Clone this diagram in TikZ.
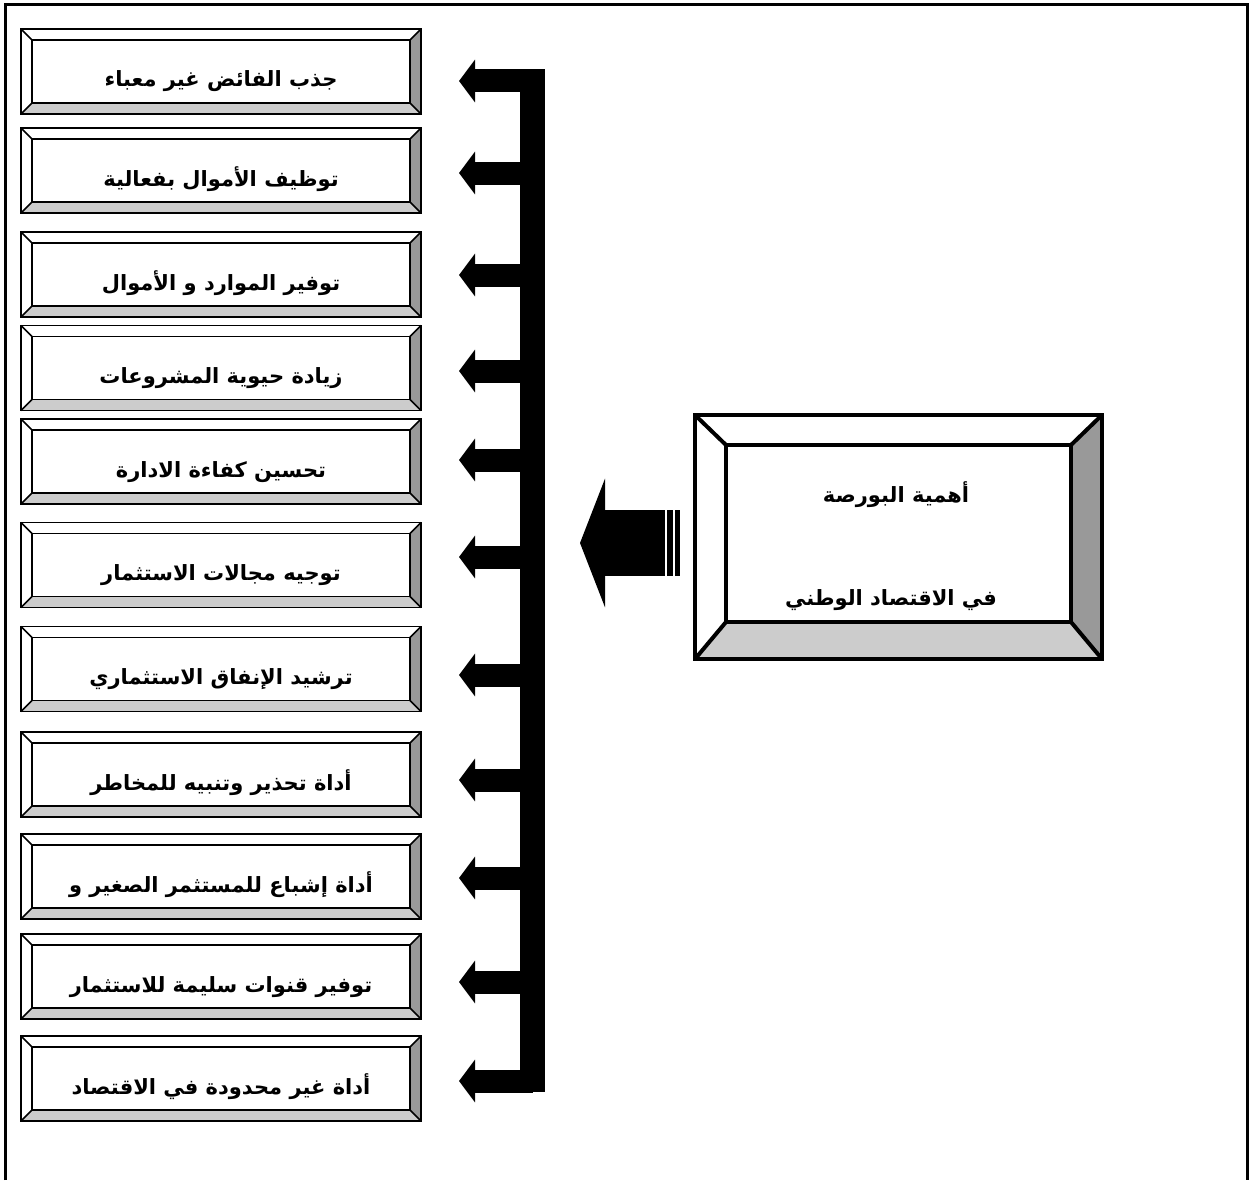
\documentclass[tikz,border=0pt]{standalone}
\usepackage{fontspec}
\newfontfamily\arabicfont[Script=Arabic]{DejaVu Sans}
\TeXXeTstate=1
\usetikzlibrary{arrows.meta,calc}
\definecolor{bevdark}{RGB}{153,153,153}
\definecolor{bevlight}{RGB}{204,204,204}
% #1 node name, #2 side bevel, #3 top bevel, #4 bottom bevel
\newcommand\drawbevel[4]{%
  \fill[bevdark] (#1.north east) -- ([shift={(-#2,#3)}]#1.north east) -- ([shift={(-#2,-#4)}]#1.south east) -- (#1.south east) -- cycle;
  \fill[bevlight] (#1.south west) -- ([shift={(#2,-#4)}]#1.south west) -- ([shift={(-#2,-#4)}]#1.south east) -- (#1.south east) -- cycle;
  \draw (#1.north west) -- ([shift={(#2,#3)}]#1.north west);
  \draw (#1.north east) -- ([shift={(-#2,#3)}]#1.north east);
  \draw (#1.south west) -- ([shift={(#2,-#4)}]#1.south west);
  \draw (#1.south east) -- ([shift={(-#2,-#4)}]#1.south east);
  \draw ([shift={(#2,#3)}]#1.north west) rectangle ([shift={(-#2,-#4)}]#1.south east);
  \draw (#1.north west) rectangle (#1.south east);
}
\tikzset{
  itembox/.style={draw, fill=white, line width=1.5pt, minimum width=400pt, minimum height=85pt,
    inner sep=0pt, outer sep=0pt, text height=36pt, text depth=5pt,
    font=\arabicfont\bfseries\fontsize{21}{25}\selectfont},
  mainbox/.style={draw, fill=white, line width=4pt, minimum width=407pt, minimum height=244pt,
    inner sep=0pt, outer sep=0pt},
  maintext/.style={font=\arabicfont\bfseries\fontsize{21}{25}\selectfont, inner sep=0pt},
  blockarrow/.style={line width=23pt, -{Triangle[length=16pt,width=42pt]}, shorten >=38pt},
  bigarrow/.style={line width=66pt, -{Triangle[length=25pt,width=128pt]}, shorten <=30pt, shorten >=35pt},
  frameline/.style={line width=3pt}
}
\begin{document}
\begin{tikzpicture}[x=1pt,y=-1pt]
\useasboundingbox (0,0) rectangle (1249,1180);
% outer frame (open at the bottom)
\draw[frameline] (5.5,1180) -- (5.5,4.5) -- (1247.5,4.5) -- (1247.5,1180);

% item boxes
\node[itembox] (b1)  at (221,71.5)  {\beginR جذب الفائض غير معباء\endR};
\node[itembox] (b2)  at (221,170.5) {\beginR توظيف الأموال بفعالية\endR};
\node[itembox] (b3)  at (221,274.5) {\beginR توفير الموارد و الأموال\endR};
\node[itembox] (b4)  at (221,368)   {\beginR زيادة حيوية المشروعات\endR};
\node[itembox] (b5)  at (221,461.5) {\beginR تحسين كفاءة الادارة\endR};
\node[itembox] (b6)  at (221,565)   {\beginR توجيه مجالات الاستثمار\endR};
\node[itembox] (b7)  at (221,669)   {\beginR ترشيد الإنفاق الاستثماري\endR};
\node[itembox] (b8)  at (221,774.5) {\beginR أداة تحذير وتنبيه للمخاطر\endR};
\node[itembox] (b9)  at (221,876.5) {\beginR أداة إشباع للمستثمر الصغير و\endR};
\node[itembox] (b10) at (221,976.5) {\beginR توفير قنوات سليمة للاستثمار\endR};
\node[itembox] (b11) at (221,1078.5){\beginR أداة غير محدودة في الاقتصاد\endR};
\begin{scope}[line width=1.5pt]
\foreach \n in {b1,b2,b3,b4,b5,b6,b7,b8,b9,b10,b11}{\drawbevel{\n}{11}{11}{11}}
\end{scope}

% vertical bar
\node[fill=black, draw=none, minimum width=25pt, minimum height=1023pt, inner sep=0pt, outer sep=0pt] (bar) at (532.5,580.5) {};

% arrows from the bar to the items
\foreach \i/\y in {1/81,2/173,3/275,4/371,5/460,6/557,7/675,8/780,9/878,10/982,11/1081}{
  \coordinate (a\i) at (532.5,\y);
  \draw[blockarrow] (a\i) -- (a\i -| b\i.east);
}

% main box
\node[mainbox] (main) at (898.5,537) {};
\begin{scope}[line width=4pt]
\drawbevel{main}{31}{30}{37}
\end{scope}
\node[maintext] (mt1) at (896,495) {\beginR أهمية البورصة\endR};
\node[maintext] (mt2) at (891,600) {\beginR في الاقتصاد الوطني\endR};

% big arrow from main box to the bar
\coordinate (m) at ([yshift=-6pt]main.west);
\draw[bigarrow] (m) -- (m -| bar.east);
\fill ([xshift=-28pt,yshift=33pt]m) rectangle ([xshift=-21.6pt,yshift=-33pt]m);
\fill ([xshift=-19.8pt,yshift=33pt]m) rectangle ([xshift=-15.4pt,yshift=-33pt]m);
\end{tikzpicture}
\end{document}
